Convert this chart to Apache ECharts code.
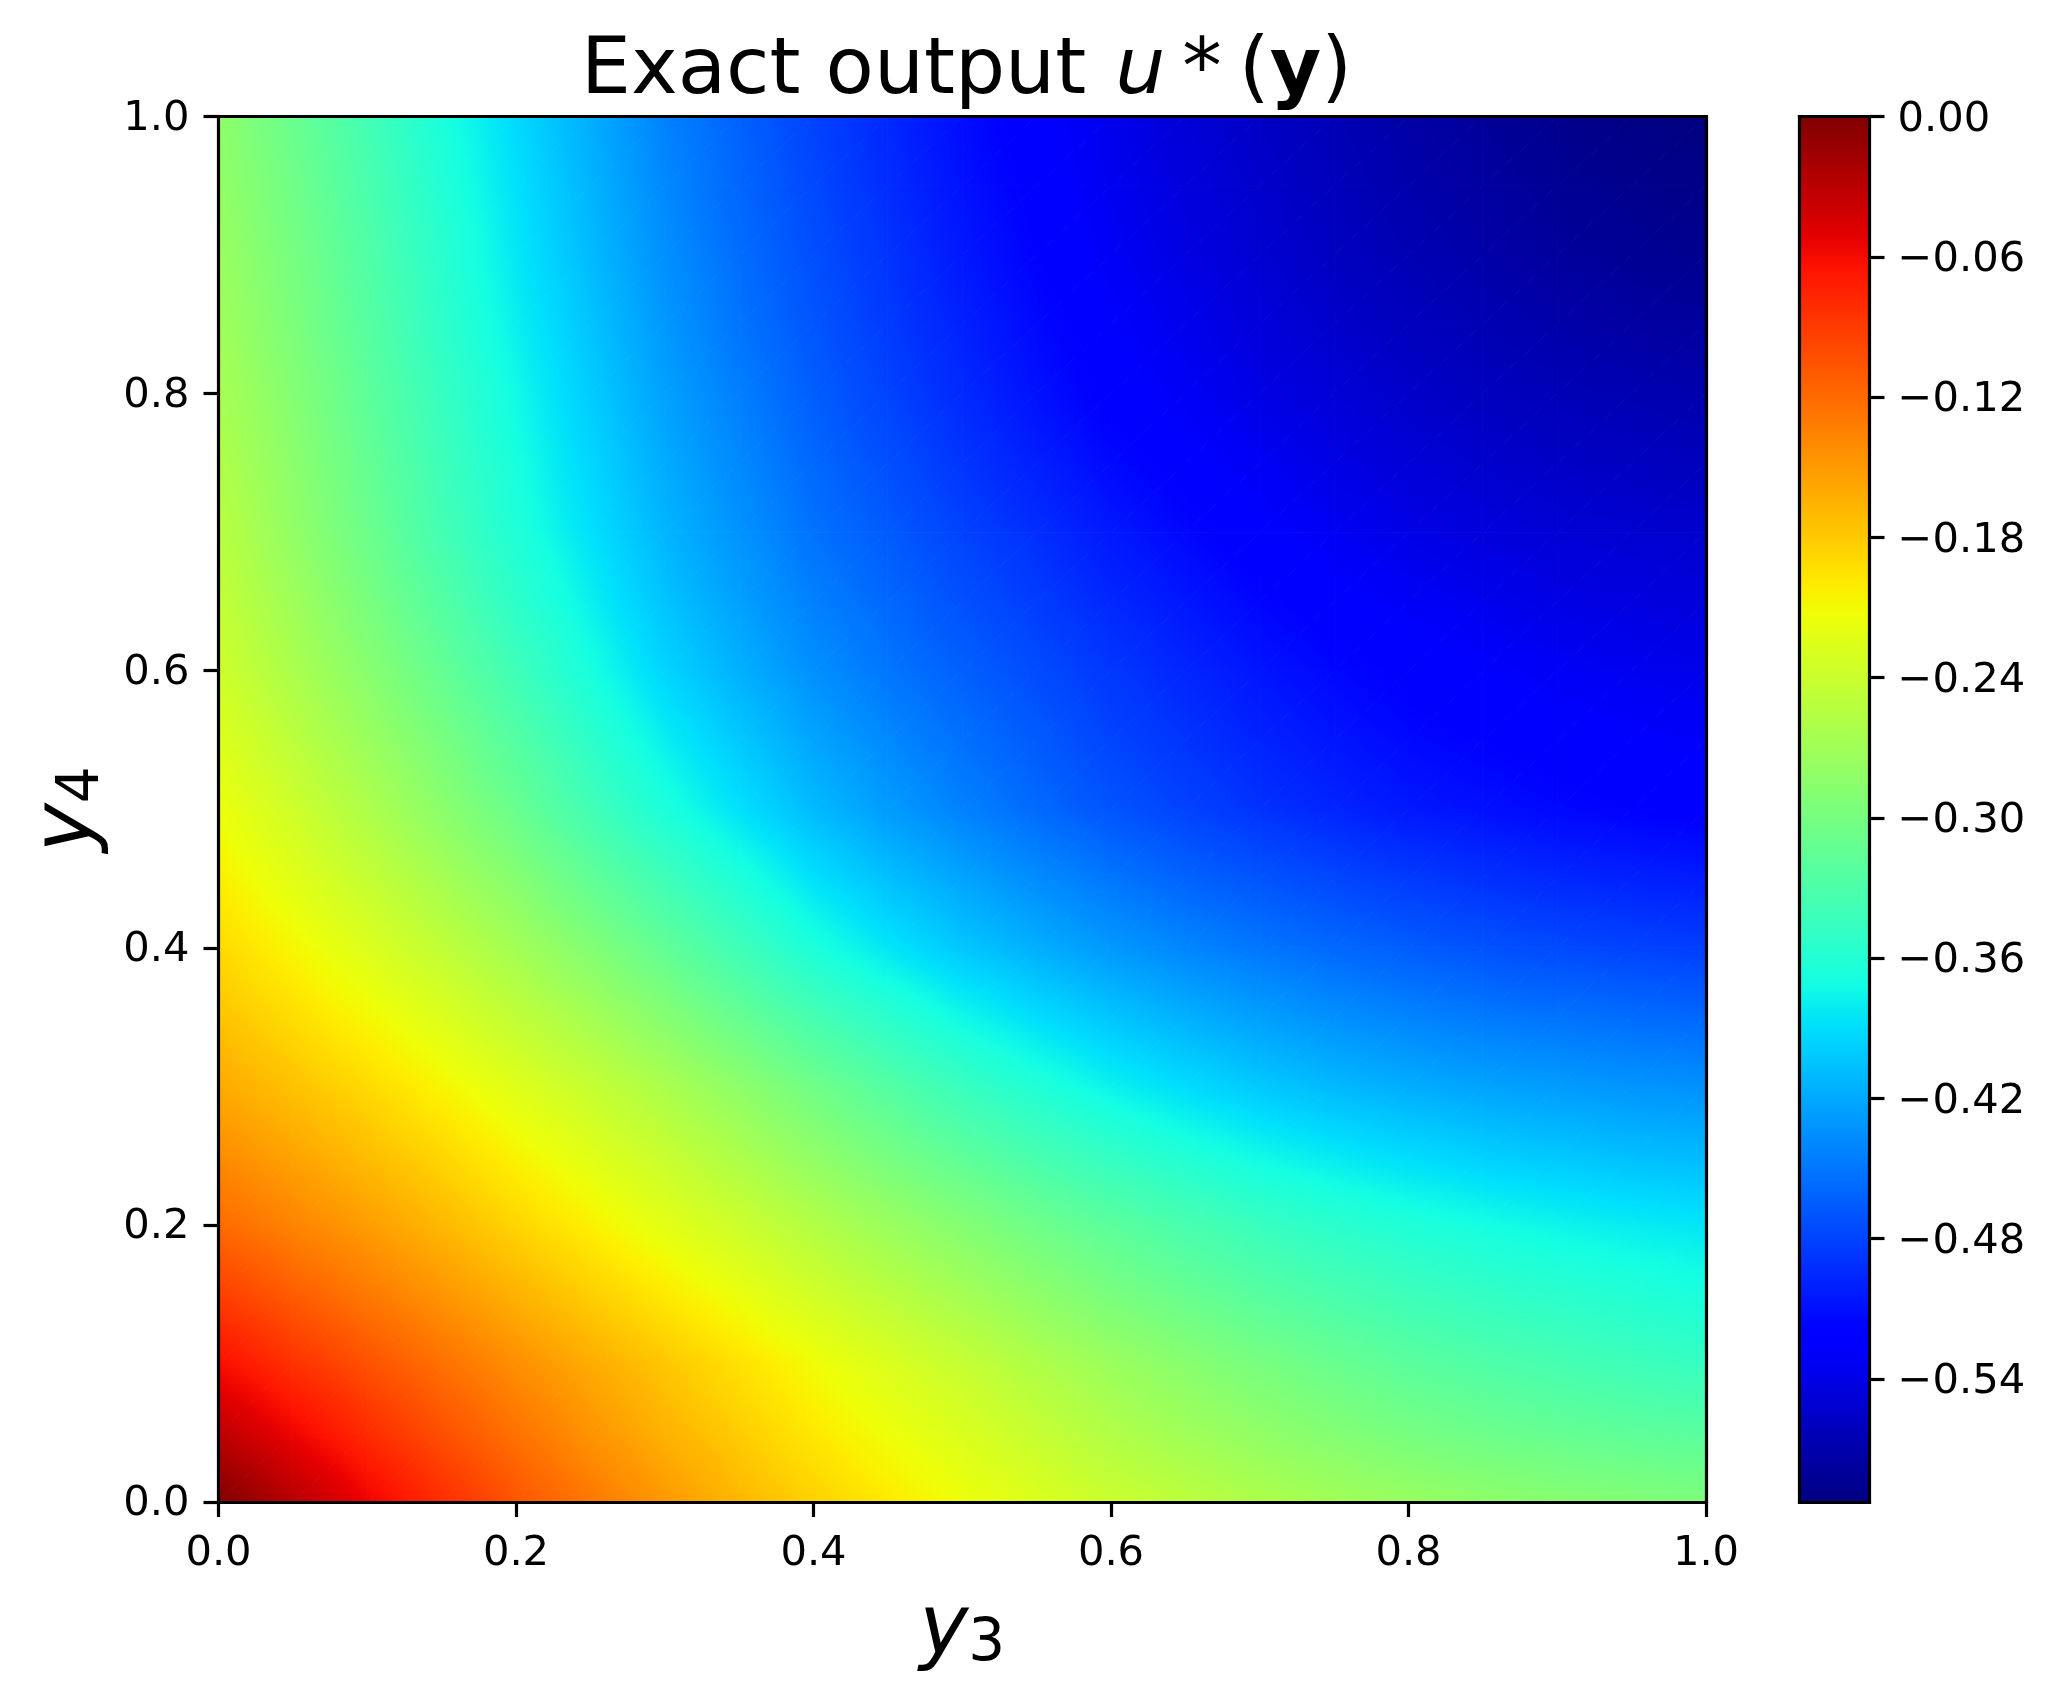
<!DOCTYPE html>
<html>
<head>
<meta charset="utf-8">
<style>html,body{margin:0;padding:0;background:#fff}#c{width:2055px;height:1696px}</style>
<script src="https://cdn.jsdelivr.net/npm/echarts@6/dist/echarts.min.js"></script>
</head>
<body>
<div id="c"></div>
<script>
const y3Nodes = [0,.05,.1,.15,.2,.25,.3,.35,.4,.45,.5,.55,.6,.65,.7,.75,.8,.85,.9,.95,1];
const y4Nodes = [0,.05,.1,.15,.2,.25,.3,.35,.4,.45,.5,.55,.6,.65,.7,.75,.8,.85,.9,.95,1];
const xTicks = [0,.2,.4,.6,.8,1];
const colorbarTicks = [0,-.06,-.12,-.18,-.24,-.30,-.36,-.42,-.48,-.54];
const colorMin = -.5927, colorMax = 0;
const uY00 = [0,-.028,-.055,-.081,-.106,-.128,-.149,-.168,-.185,-.200,-.214,-.227,-.240,-.250,-.260,-.269,-.276,-.282,-.287,-.291,-.295];
const uY05 = [-.032,-.056,-.080,-.103,-.125,-.146,-.165,-.182,-.199,-.214,-.228,-.243,-.258,-.270,-.281,-.291,-.300,-.307,-.313,-.318,-.322];
const uY10 = [-.062,-.084,-.104,-.124,-.143,-.161,-.178,-.195,-.212,-.228,-.243,-.259,-.274,-.287,-.299,-.310,-.320,-.328,-.335,-.341,-.347];
const uY15 = [-.092,-.111,-.129,-.147,-.165,-.183,-.200,-.217,-.235,-.251,-.267,-.283,-.298,-.311,-.323,-.333,-.342,-.349,-.355,-.361,-.367];
const uY20 = [-.120,-.136,-.152,-.169,-.187,-.204,-.222,-.239,-.257,-.274,-.290,-.306,-.320,-.333,-.345,-.355,-.363,-.370,-.376,-.381,-.385];
const uY25 = [-.141,-.156,-.172,-.188,-.206,-.224,-.242,-.261,-.281,-.300,-.318,-.334,-.349,-.362,-.374,-.383,-.391,-.398,-.403,-.408,-.411];
const uY30 = [-.160,-.175,-.190,-.207,-.225,-.243,-.262,-.283,-.305,-.325,-.345,-.362,-.378,-.391,-.402,-.411,-.418,-.424,-.428,-.432,-.435];
const uY35 = [-.176,-.192,-.209,-.227,-.247,-.267,-.289,-.312,-.335,-.355,-.374,-.390,-.404,-.416,-.426,-.435,-.442,-.448,-.452,-.456,-.459];
const uY40 = [-.190,-.208,-.227,-.247,-.268,-.291,-.315,-.340,-.365,-.385,-.403,-.417,-.430,-.441,-.450,-.458,-.465,-.471,-.476,-.480,-.483];
const uY45 = [-.203,-.223,-.244,-.266,-.289,-.315,-.340,-.364,-.388,-.407,-.423,-.437,-.450,-.461,-.470,-.478,-.485,-.491,-.496,-.500,-.503];
const uY50 = [-.215,-.237,-.260,-.285,-.310,-.338,-.365,-.388,-.410,-.428,-.443,-.457,-.470,-.480,-.490,-.498,-.505,-.510,-.515,-.519,-.522];
const uY55 = [-.226,-.250,-.274,-.299,-.325,-.353,-.380,-.402,-.423,-.439,-.453,-.466,-.479,-.489,-.499,-.507,-.514,-.519,-.524,-.527,-.530];
const uY60 = [-.237,-.262,-.287,-.313,-.340,-.368,-.395,-.416,-.435,-.450,-.463,-.475,-.487,-.497,-.507,-.515,-.522,-.527,-.532,-.535,-.538];
const uY65 = [-.245,-.271,-.298,-.325,-.353,-.379,-.405,-.425,-.444,-.458,-.472,-.484,-.496,-.506,-.516,-.524,-.531,-.536,-.541,-.543,-.546];
const uY70 = [-.252,-.280,-.308,-.336,-.363,-.388,-.413,-.433,-.452,-.466,-.480,-.492,-.505,-.515,-.525,-.533,-.540,-.545,-.549,-.551,-.553];
const uY75 = [-.259,-.285,-.313,-.341,-.368,-.394,-.419,-.439,-.458,-.473,-.488,-.501,-.514,-.524,-.533,-.541,-.548,-.553,-.557,-.559,-.562];
const uY80 = [-.265,-.290,-.318,-.346,-.373,-.400,-.425,-.445,-.464,-.480,-.495,-.509,-.522,-.532,-.541,-.548,-.555,-.560,-.564,-.567,-.570];
const uY85 = [-.270,-.296,-.323,-.352,-.379,-.405,-.430,-.451,-.469,-.485,-.500,-.514,-.527,-.537,-.546,-.554,-.561,-.566,-.571,-.575,-.578];
const uY90 = [-.275,-.300,-.327,-.356,-.384,-.410,-.435,-.455,-.473,-.489,-.505,-.519,-.532,-.542,-.551,-.559,-.566,-.572,-.578,-.582,-.585];
const uY95 = [-.279,-.305,-.332,-.361,-.388,-.414,-.439,-.459,-.477,-.493,-.509,-.522,-.535,-.545,-.554,-.562,-.570,-.576,-.582,-.586,-.589];
const uY100 = [-.283,-.310,-.337,-.366,-.392,-.418,-.443,-.462,-.480,-.496,-.512,-.525,-.537,-.548,-.557,-.565,-.573,-.580,-.586,-.590,-.593];
const uRows = [uY00,uY05,uY10,uY15,uY20,uY25,uY30,uY35,uY40,uY45,uY50,uY55,uY60,uY65,uY70,uY75,uY80,uY85,uY90,uY95,uY100];

// matplotlib "jet" colormap
function ramp(t, pts){
  for(let i=1;i<pts.length;i++){
    if(t<=pts[i][0]){
      const a=pts[i-1],b=pts[i];
      return a[1]+(b[1]-a[1])*(t-a[0])/(b[0]-a[0]);
    }
  }
  return pts[pts.length-1][1];
}
const R=[[0,0],[.35,0],[.66,1],[.89,1],[1,.5]];
const G=[[0,0],[.125,0],[.375,1],[.64,1],[.91,0],[1,0]];
const B=[[0,.5],[.11,1],[.34,1],[.65,0],[1,0]];
function jet(t){
  t=Math.max(0,Math.min(1,t));
  const c=[R,G,B].map(p=>Math.round(255*ramp(t,p)));
  return 'rgb('+c.join(',')+')';
}
function colorOf(v){return jet((v-colorMin)/(colorMax-colorMin));}
const jetList=[];
for(let i=0;i<=128;i++) jetList.push(jet(i/128));

function triangle(p,v){
  const d=(p[1][0]-p[0][0])*(p[2][1]-p[0][1])-(p[2][0]-p[0][0])*(p[1][1]-p[0][1]);
  const gx=((v[1]-v[0])*(p[2][1]-p[0][1])-(v[2]-v[0])*(p[1][1]-p[0][1]))/d;
  const gy=((v[2]-v[0])*(p[1][0]-p[0][0])-(v[1]-v[0])*(p[2][0]-p[0][0]))/d;
  const g2=gx*gx+gy*gy;
  let paint;
  const lo=Math.min(v[0],v[1],v[2]), hi=Math.max(v[0],v[1],v[2]);
  if(g2<1e-16||hi-lo<1e-6){
    paint=colorOf(v[0]);
  }else{
    const k=v.indexOf(lo), a=p[k], s=(hi-lo)/g2;
    const stops=[];
    for(let i=0;i<=6;i++) stops.push({offset:i/6,color:colorOf(lo+(hi-lo)*i/6)});
    paint=new echarts.graphic.LinearGradient(a[0],a[1],a[0]+gx*s,a[1]+gy*s,stops,true);
  }
  return {type:'polygon',silent:true,shape:{points:p},style:{fill:paint,stroke:paint,lineWidth:1}};
}
function renderCell(params,api){
  const x0=api.value(0),y0=api.value(1),x1=api.value(2),y1=api.value(3);
  const a=api.coord([x0,y0]),b=api.coord([x1,y0]),c=api.coord([x0,y1]),d=api.coord([x1,y1]);
  const va=api.value(4),vb=api.value(5),vc=api.value(6),vd=api.value(7);
  return {type:'group',children:[triangle([a,b,d],[va,vb,vd]),triangle([a,d,c],[va,vd,vc])]};
}
const cells=[];
for(let j=0;j<y4Nodes.length-1;j++){
  for(let i=0;i<y3Nodes.length-1;i++){
    cells.push([y3Nodes[i],y4Nodes[j],y3Nodes[i+1],y4Nodes[j+1],uRows[j][i],uRows[j][i+1],uRows[j+1][i],uRows[j+1][i+1]]);
  }
}

const FONT='DejaVu Sans';
const lineS={color:'#000',width:3.2,cap:'square'};
const tickS={show:true,length:15,inside:false,lineStyle:{color:'#000',width:3.2}};
const plainAxis={show:true,min:0,max:1,type:'value',splitLine:{show:false},axisTick:{show:false},axisLabel:{show:false},axisLine:{show:true,onZero:false,lineStyle:lineS},z:10};
const tickText=top=>({t:{fontFamily:FONT,fontSize:41.67,color:'#000',padding:[top,0,0,0]}});

const chart=echarts.init(document.getElementById('c'),null,{renderer:'canvas'});
chart.setOption({
  animation:false,
  backgroundColor:'#fff',
  title:{
    left:581,top:33,padding:0,
    text:'{n|Exact output }{i|u}{a|*}{n|(}{b|y}{n|)}',
    textStyle:{fontWeight:'normal',rich:{
      n:{fontFamily:FONT,fontSize:79,fontWeight:'normal',color:'#000'},
      a:{fontFamily:FONT,fontSize:79,fontWeight:'normal',color:'#000',padding:[0,17,0,17]},
      i:{fontFamily:FONT,fontSize:79,fontStyle:'italic',fontWeight:'normal',color:'#000',padding:[0,0,0,4]},
      b:{fontFamily:FONT,fontSize:79,fontWeight:'bold',color:'#000'}
    }}
  },
  grid:[
    {left:218.5,top:116.5,width:1487.5,height:1385.5,show:false,outerBoundsMode:'none'},
    {left:1799.5,top:116.5,width:70,height:1385.5,show:false,outerBoundsMode:'none'}
  ],
  xAxis:[
    {gridIndex:0,type:'value',min:0,max:1,interval:.2,position:'bottom',
     name:'{i|y}{s|3}',nameLocation:'middle',nameGap:88,
     nameTextStyle:{rich:{i:{fontFamily:FONT,fontStyle:'italic',fontSize:83,color:'#000'},s:{fontFamily:FONT,fontSize:58,color:'#000',padding:[26,0,0,0]}}},
     splitLine:{show:false},axisLine:{show:true,onZero:false,lineStyle:lineS},axisTick:tickS,
     axisLabel:{show:true,margin:31,color:'#000',fontFamily:FONT,fontSize:41.67,formatter:v=>v.toFixed(1),customValues:xTicks},z:10},
    Object.assign({},plainAxis,{gridIndex:0,position:'top'}),
    Object.assign({},plainAxis,{gridIndex:1,position:'bottom'}),
    Object.assign({},plainAxis,{gridIndex:1,position:'top'})
  ],
  yAxis:[
    {gridIndex:0,type:'value',min:0,max:1,interval:.2,position:'left',
     name:'{i|y}{s|4}',nameLocation:'middle',nameRotate:90,nameGap:107,
     nameTextStyle:{rich:{i:{fontFamily:FONT,fontStyle:'italic',fontSize:83,color:'#000'},s:{fontFamily:FONT,fontSize:58,color:'#000',padding:[26,0,0,0]}}},
     splitLine:{show:false},axisLine:{show:true,onZero:false,lineStyle:lineS},axisTick:tickS,
     axisLabel:{show:true,margin:29,rich:tickText(5),formatter:v=>'{t|'+v.toFixed(1)+'}',customValues:xTicks},z:10},
    Object.assign({},plainAxis,{gridIndex:0,position:'right'}),
    {gridIndex:1,type:'value',min:colorMin,max:colorMax,position:'right',
     splitLine:{show:false},axisLine:{show:true,onZero:false,lineStyle:lineS},
     axisTick:Object.assign({},tickS,{customValues:colorbarTicks}),
     axisLabel:{show:true,margin:28,rich:tickText(7),customValues:colorbarTicks,
       formatter:v=>'{t|'+(v===0?'0.00':'\u2212'+Math.abs(v).toFixed(2))+'}'},z:10},
    {gridIndex:1,type:'value',min:colorMin,max:colorMax,position:'left',splitLine:{show:false},axisTick:{show:false},axisLabel:{show:false},
     axisLine:{show:true,onZero:false,lineStyle:lineS},z:10}
  ],
  visualMap:{
    type:'continuous',min:colorMin,max:colorMax,seriesIndex:[],calculable:false,
    left:1799.5,top:116.5,itemWidth:70,itemHeight:1385.5,padding:0,text:null,
    inRange:{color:jetList},hoverLink:false,realtime:false
  },
  series:[{
    type:'custom',name:'u*(y)',xAxisIndex:0,yAxisIndex:0,coordinateSystem:'cartesian2d',
    renderItem:renderCell,data:cells,encode:{x:[0,2],y:[1,3]},clip:true,silent:true,z:2,progressive:0
  }]
});
</script>
</body>
</html>
